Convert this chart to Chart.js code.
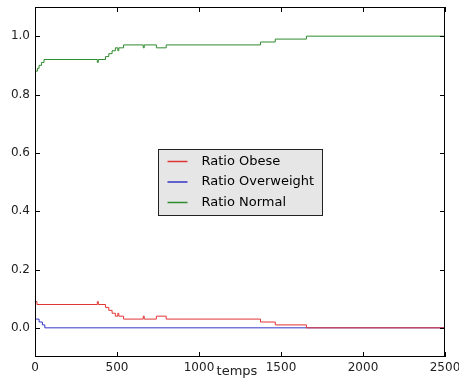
<!DOCTYPE html>
<html>
<head>
<meta charset="utf-8">
<script src="https://cdn.jsdelivr.net/npm/chart.js@4.4.1/dist/chart.umd.min.js"></script>
<style>
  body { margin: 0; background: #fff; }
  #wrap { width: 459px; height: 379px; position: relative; }
</style>
</head>
<body>
<div id="wrap"><canvas id="canvas"></canvas></div>
<script>
// step data (time, ratio)
var obeseT = [0, 3, 12, 380, 386, 430, 450, 470, 490, 505, 511, 540, 660, 666, 740, 800, 1375, 1465, 1655, 2500];
var obeseV = [0.12, 0.09, 0.08, 0.09, 0.08, 0.07, 0.06, 0.05, 0.04, 0.05, 0.04, 0.03, 0.04, 0.03, 0.04, 0.03, 0.02, 0.01, 0, 0];

var overT = [0, 3, 25, 45, 60, 2500];
var overV = [0.28, 0.03, 0.02, 0.01, 0, 0];

var normalT = [0, 3, 15, 25, 40, 55, 380, 386, 430, 450, 470, 490, 505, 511, 540, 660, 666, 740, 800, 1375, 1465, 1655, 2500];
var normalV = [0.6, 0.88, 0.89, 0.9, 0.91, 0.92, 0.91, 0.92, 0.93, 0.94, 0.95, 0.96, 0.95, 0.96, 0.97, 0.96, 0.97, 0.96, 0.97, 0.98, 0.99, 1.0, 1.0];

var labels = ['Ratio Obese', 'Ratio Overweight', 'Ratio Normal'];
var colors = ['#e03535', '#3535c8', '#2e8b2e'];
var xTicks = [0, 500, 1000, 1500, 2000, 2500];
var yTicks = [0, 0.2, 0.4, 0.6, 0.8, 1.0];

function pts(t, v) {
    return t.map(function(x, i) { return {x: x, y: v[i]}; });
}

function mkSet(i, t, v) {
    return {
        label: labels[i],
        data: pts(t, v),
        stepped: true,
        borderColor: colors[i],
        backgroundColor: 'transparent',
        borderWidth: 1,
        pointRadius: 0
    };
}

// matplotlib-ish frame, inward ticks, legend box and x label
var frame = {
    id: 'frame',
    afterDraw: function(chart) {
        var c = chart.ctx, a = chart.chartArea;
        var xs = chart.scales.x, ys = chart.scales.y;
        c.save();
        c.strokeStyle = '#000';
        c.lineWidth = 1;
        c.strokeRect(a.left + 0.5, a.top + 0.5, a.right - a.left - 1, a.bottom - a.top - 1);
        c.beginPath();
        xTicks.forEach(function(v) {
            var p = Math.round(xs.getPixelForValue(v)) + 0.5;
            c.moveTo(p, a.bottom); c.lineTo(p, a.bottom - 5);
            c.moveTo(p, a.top); c.lineTo(p, a.top + 5);
        });
        yTicks.forEach(function(v) {
            var p = Math.round(ys.getPixelForValue(v)) + 0.5;
            c.moveTo(a.left, p); c.lineTo(a.left + 5, p);
            c.moveTo(a.right, p); c.lineTo(a.right - 5, p);
        });
        c.stroke();

        // legend box
        var bx = 158.5, by = 149.5, bw = 164, bh = 66;
        c.fillStyle = '#e6e6e6';
        c.fillRect(bx, by, bw, bh);
        c.strokeStyle = '#222';
        c.strokeRect(bx, by, bw, bh);
        c.font = '13px "DejaVu Sans"';
        c.textBaseline = 'middle';
        chart.data.datasets.forEach(function(ds, i) {
            var yy = by + 12 + i * 20.5;
            c.strokeStyle = ds.borderColor;
            c.lineWidth = 1.5;
            c.beginPath();
            c.moveTo(bx + 9, yy); c.lineTo(bx + 29, yy);
            c.stroke();
            c.fillStyle = '#000';
            c.fillText(ds.label, bx + 43, yy);
        });

        c.font = '13px "DejaVu Sans"';
        c.textAlign = 'center';
        c.textBaseline = 'alphabetic';
        c.fillStyle = '#222';
        c.fillText('temps', (a.left + a.right) / 2 - 3, a.bottom + 18);
        c.restore();
    }
};

var ctx = document.getElementById('canvas').getContext('2d');
var myChart = new Chart(ctx, {
    type: 'line',
    data: {
        datasets: [
            mkSet(0, obeseT, obeseV),
            mkSet(1, overT, overV),
            mkSet(2, normalT, normalV)
        ]
    },
    options: {
        responsive: true,
        maintainAspectRatio: false,
        animation: false,
        layout: { padding: { left: 0, right: 14, top: 7, bottom: 0 } },
        plugins: { legend: { display: false }, tooltip: { enabled: false } },
        scales: {
            x: {
                type: 'linear',
                min: 0, max: 2500,
                afterBuildTicks: function(s) { s.ticks = xTicks.map(function(v) { return {value: v}; }); },
                afterFit: function(s) { s.height = 22; s.paddingLeft = 0; s.paddingRight = 0; },
                grid: { display: false, drawTicks: false },
                border: { display: false },
                ticks: {
                    color: '#222', padding: 4, maxRotation: 0,
                    font: { family: 'DejaVu Sans', size: 12 },
                    callback: function(v) { return String(v); }
                }
            },
            y: {
                min: -0.1, max: 1.1,
                afterBuildTicks: function(s) { s.ticks = yTicks.map(function(v) { return {value: v}; }); },
                afterFit: function(s) { s.width = 35; s.paddingTop = 0; s.paddingBottom = 0; },
                grid: { display: false, drawTicks: false },
                border: { display: false },
                ticks: {
                    color: '#222', padding: 5,
                    font: { family: 'DejaVu Sans', size: 12 },
                    callback: function(v) { return Number(v).toFixed(1); }
                }
            }
        }
    },
    plugins: [frame]
});
</script>
</body>
</html>
